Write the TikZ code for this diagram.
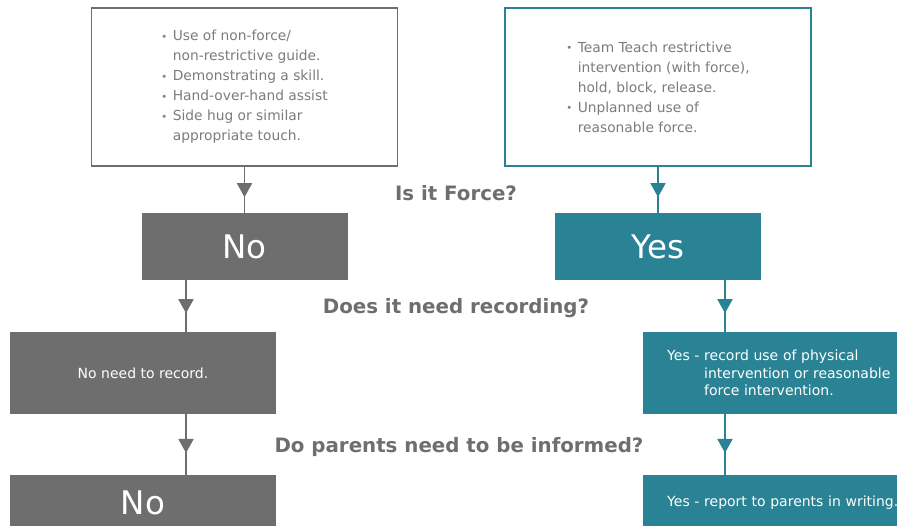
\documentclass[tikz,border=0pt]{standalone}
\usepackage{fontspec}
\setmainfont{DejaVu Sans}
\usetikzlibrary{arrows.meta,decorations.markings}

\definecolor{boxgray}{HTML}{6E6E6E}
\definecolor{boxteal}{HTML}{2A8394}
\definecolor{txtgray}{HTML}{7C7C7C}

\newcommand{\itm}{\makebox[11.5pt][l]{\raisebox{0.1ex}{\fontsize{10}{10}\selectfont\textbullet}}}
\newcommand{\ind}{\hspace*{11.5pt}}

\tikzset{
  infobox/.style={draw=#1, line width=1.6pt, fill=white, text=txtgray,
    font=\fontsize{13.8}{20}\selectfont, align=left,
    minimum width=306pt, minimum height=158pt, inner sep=0pt},
  answer/.style={fill=#1, text=white, font=\fontsize{32.5}{36}\selectfont,
    minimum width=206pt, minimum height=67pt, inner sep=0pt},
  result/.style={fill=#1, text=white, font=\fontsize{14}{17.5}\selectfont,
    align=left, inner sep=0pt},
  question/.style={text=boxgray, font=\fontsize{19.8}{22}\selectfont\bfseries},
  flow/.style 2 args={draw=#1, line width=1.8pt, decoration={markings,
    mark=at position #2 with {\arrow[#1]{Triangle[width=15pt,length=14pt]}}},
    postaction=decorate}
}

\begin{document}
\begin{tikzpicture}[x=1pt,y=-1pt]

    % Rahmen
    \path[use as bounding box] (0,0) rectangle (897,525);
    \clip (0,0) rectangle (897,525);

    % Obere Kaesten
    \node[infobox=boxgray] (nonforce) at (244.5,87) {%
        \itm Use of non-force/\\
        \ind non-restrictive guide.\\
        \itm Demonstrating a skill.\\
        \itm Hand-over-hand assist\\
        \itm Side hug or similar\\
        \ind appropriate touch.};
    \node[infobox=boxteal] (force) at (658,87) {%
        \itm Team Teach restrictive\\
        \ind intervention (with force),\\
        \ind hold, block, release.\\
        \itm Unplanned use of\\
        \ind reasonable force.};

    % Antworten
    \node[answer=boxgray] (no1) at (244.5,246.5) {No};
    \node[answer=boxteal] (yes1) at (658,246.5) {Yes};

    \node[result=boxgray, minimum width=266pt, minimum height=82pt] (norec) at (143,373) {No need to record.};
    \node[result=boxteal, anchor=west, minimum height=82pt, text width=300pt, inner xsep=24pt] (rec) at (643,373) {%
        Yes - record use of physical\\
        \hphantom{Yes -}\ intervention or reasonable\\
        \hphantom{Yes -}\ force intervention.};

    \node[answer=boxgray, minimum width=266pt, minimum height=56pt] (no2) at (143,503) {No};
    \node[result=boxteal, anchor=west, minimum height=56pt, text width=300pt, inner xsep=24pt] (report) at (643,503) {Yes - report to parents in writing.};

    % Fragen
    \node[question] (q1) at (456,193) {Is it Force?};
    \node[question] (q2) at (456,308) {Does it need recording?};
    \node[question] (q3) at (459,447) {Do parents need to be informed?};

    % Verbindungen
    \coordinate (lx) at (186,0);
    \coordinate (rx) at (725,0);
    \draw[flow={boxgray}{0.66}] (nonforce.south) -- (no1.north);
    \draw[flow={boxteal}{0.66}] (force.south) -- (yes1.north);
    \draw[flow={boxgray}{0.64}] (no1.south -| lx) -- (norec.north -| lx);
    \draw[flow={boxteal}{0.64}] (yes1.south -| rx) -- (rec.north -| rx);
    \draw[flow={boxgray}{0.64}] (norec.south -| lx) -- (no2.north -| lx);
    \draw[flow={boxteal}{0.64}] (rec.south -| rx) -- (report.north -| rx);

\end{tikzpicture}
\end{document}
